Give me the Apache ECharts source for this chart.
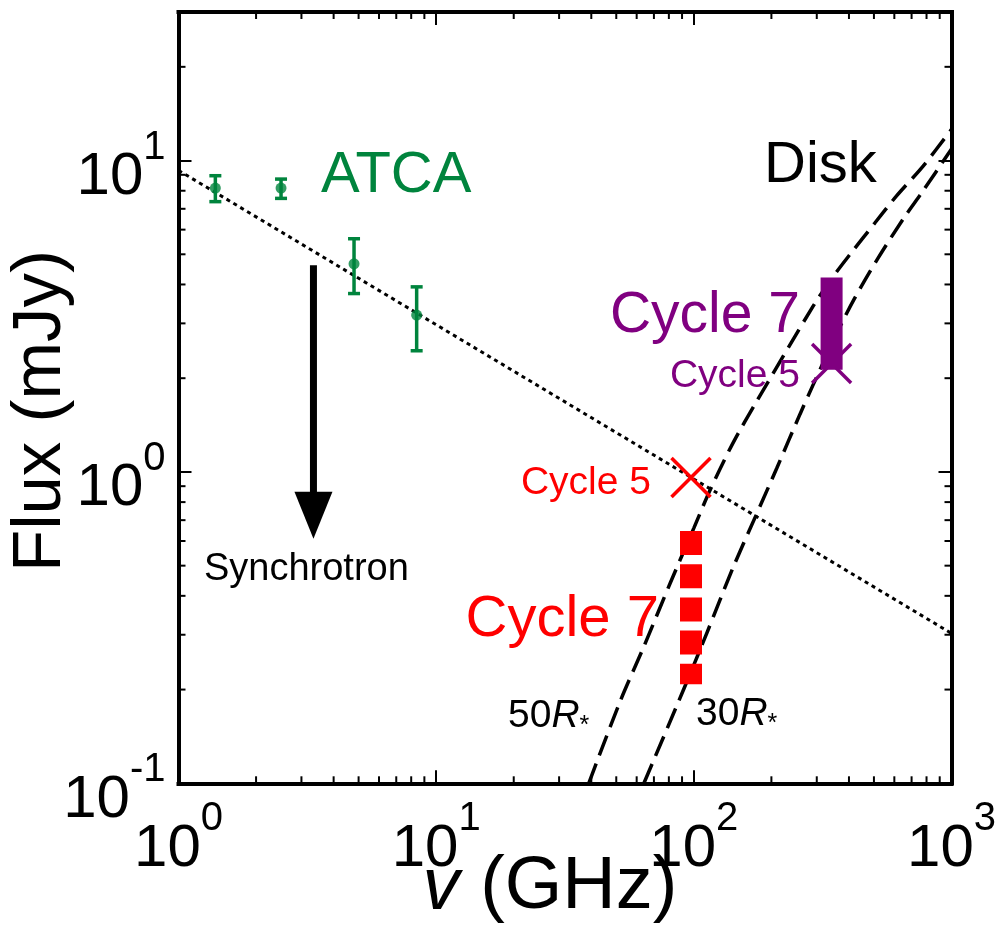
<!DOCTYPE html>
<html>
<head>
<meta charset="utf-8">
<title>Flux vs frequency</title>
<script src="https://cdn.jsdelivr.net/npm/echarts@6/dist/echarts.min.js"></script>
<style>
  html, body { margin: 0; padding: 0; background: #ffffff; }
  #chart { width: 1002px; height: 927px; }
</style>
</head>
<body>
<div id="chart"></div>
<script>
// ---- data -------------------------------------------------------------
// ATCA radio photometry (GHz, mJy)
const atcaFreq = [1.39, 2.5, 4.8, 8.4];
const atcaFlux = [8.16, 8.16, 4.66, 3.19];
const atcaLow  = [7.38, 7.56, 3.74, 2.45];
const atcaHigh = [8.94, 8.72, 5.61, 3.93];

// synchrotron power law, end points
const syncFreq = [1, 1000];
const syncFlux = [9.3, 0.303];

// disk model curves
const disk50Freq = [39.1, 52, 64, 81, 100, 116, 142, 175, 290, 348, 404, 504, 612, 776, 1000];
const disk50Flux = [0.1, 0.185, 0.275, 0.44, 0.66, 0.88, 1.24, 1.68, 3.4, 4.25, 5.0, 6.3, 7.7, 9.6, 12.6];
const disk30Freq = [64, 91, 112, 142, 175, 210, 258, 290, 358, 420, 518, 650, 776, 1000];
const disk30Flux = [0.1, 0.199, 0.302, 0.493, 0.731, 1.03, 1.53, 1.90, 2.78, 3.6, 4.85, 6.5, 8.0, 10.9];

// ALMA measurements: Cycle 5 points, Cycle 7 ranges (band 3, band 7)
const cycle5Freq = [97.5, 342.5];
const cycle5Flux = [0.96, 2.23];
const cycle7Freq = [97.5, 342.5];
const cycle7Top = [0.646, 4.21];
const cycle7Bottom = [0.208, 2.13];

// synchrotron arrow (GHz, from mJy, to mJy)
const arrowFreq = [3.34];
const arrowFrom = [4.61];
const arrowTo = [0.61];

// decade exponents that get a tick label
const xExponents = [0, 1, 2, 3];
const yExponents = [-1, 0, 1];

// ---- styling ----------------------------------------------------------
const FONT = "'Liberation Sans', Arial, Helvetica, sans-serif";
const GREEN = '#00843d';
const PURPLE = '#800080';
const RED = '#ff0000';
const X_RANGE = [1, 1000];
const Y_RANGE = [0.1, 30];

const zip = (a, b) => a.map((v, i) => [v, b[i]]);

// "10" with the decade exponent as a superscript
function powerLabel(exps) {
  return function (v) {
    const p = Math.log10(v);
    const r = Math.round(p);
    if (Math.abs(p - r) > 1e-6 || exps.indexOf(r) < 0) return '';
    return '{b|10}{e|' + r + '}';
  };
}
const richTick = {
  b: { fontFamily: FONT, fontSize: 60, lineHeight: 80, verticalAlign: 'bottom', color: '#000' },
  e: { fontFamily: FONT, fontSize: 40, lineHeight: 26, verticalAlign: 'top', color: '#000' }
};

const axisLine = { show: true, onZero: false, lineStyle: { color: '#000', width: 4, cap: 'square' } };
const majorTick = { show: true, inside: true, length: 13, lineStyle: { color: '#000', width: 2 } };

// minor decade ticks (2..9 within every decade) drawn on all four sides
function minorValues(lo, hi) {
  const out = [];
  for (let d = Math.floor(Math.log10(lo)); d < Math.ceil(Math.log10(hi)); d++) {
    for (let m = 2; m <= 9; m++) {
      const v = m * Math.pow(10, d);
      if (v > lo && v < hi) out.push(v);
    }
  }
  return out;
}
const MINOR_LEN = 7;
function renderXMinor(params, api) {
  const cs = params.coordSys;
  const x = api.coord([api.value(0), Y_RANGE[0]])[0];
  const top = cs.y, bottom = cs.y + cs.height;
  const st = { stroke: '#000', lineWidth: 2 };
  return { type: 'group', children: [
    { type: 'line', shape: { x1: x, y1: bottom, x2: x, y2: bottom - MINOR_LEN }, style: st },
    { type: 'line', shape: { x1: x, y1: top, x2: x, y2: top + MINOR_LEN }, style: st }
  ] };
}
function renderYMinor(params, api) {
  const cs = params.coordSys;
  const y = api.coord([X_RANGE[0], api.value(1)])[1];
  const left = cs.x, right = cs.x + cs.width;
  const st = { stroke: '#000', lineWidth: 2 };
  return { type: 'group', children: [
    { type: 'line', shape: { x1: left, y1: y, x2: left + MINOR_LEN, y2: y }, style: st },
    { type: 'line', shape: { x1: right, y1: y, x2: right - MINOR_LEN, y2: y }, style: st }
  ] };
}

// vertical error bar with caps
function renderErrorBar(params, api) {
  const lo = api.coord([api.value(0), api.value(1)]);
  const hi = api.coord([api.value(0), api.value(2)]);
  const cap = 6;
  const st = { stroke: GREEN, lineWidth: 3.5 };
  return { type: 'group', children: [
    { type: 'line', shape: { x1: lo[0], y1: lo[1], x2: hi[0], y2: hi[1] }, style: st },
    { type: 'line', shape: { x1: lo[0] - cap, y1: lo[1], x2: lo[0] + cap, y2: lo[1] }, style: st },
    { type: 'line', shape: { x1: hi[0] - cap, y1: hi[1], x2: hi[0] + cap, y2: hi[1] }, style: st }
  ] };
}

// open "x" marker
function crossRenderer(color) {
  return function (params, api) {
    const p = api.coord([api.value(0), api.value(1)]);
    const h = 19.5;
    const st = { stroke: color, lineWidth: 3.5 };
    return { type: 'group', children: [
      { type: 'line', shape: { x1: p[0] - h, y1: p[1] - h, x2: p[0] + h, y2: p[1] + h }, style: st },
      { type: 'line', shape: { x1: p[0] - h, y1: p[1] + h, x2: p[0] + h, y2: p[1] - h }, style: st }
    ] };
  };
}

// downward arrow with a solid triangular head
function renderArrow(params, api) {
  const start = api.coord([api.value(0), api.value(1)]);
  const tip = api.coord([api.value(0), api.value(2)]);
  const headLen = 47, headHalf = 19;
  return { type: 'group', children: [
    { type: 'line', shape: { x1: start[0], y1: start[1], x2: tip[0], y2: tip[1] - headLen + 2 },
      style: { stroke: '#000', lineWidth: 7 } },
    { type: 'polygon', shape: { points: [[tip[0] - headHalf, tip[1] - headLen], [tip[0] + headHalf, tip[1] - headLen], [tip[0], tip[1]]] },
      style: { fill: '#000' } }
  ] };
}

function textEl(text, x, y, color, size, align) {
  return { type: 'text', z: 100, style: { text: text, x: x, y: y, fill: color, font: size + 'px ' + FONT,
    align: align, textAlign: align, verticalAlign: 'middle', textVerticalAlign: 'middle' } };
}
// "50R*" style label: italic R with a lowered asterisk
function radiusEl(num, x, y) {
  return { type: 'text', z: 100, style: { text: '{n|' + num + '}{r|R}{s|*}', x: x, y: y, fill: '#000',
    align: 'left', textAlign: 'left', verticalAlign: 'middle', textVerticalAlign: 'middle',
    rich: {
      n: { fontFamily: FONT, fontSize: 39, lineHeight: 42, verticalAlign: 'top' },
      r: { fontFamily: FONT, fontSize: 39, lineHeight: 42, verticalAlign: 'top', fontStyle: 'italic' },
      s: { fontFamily: FONT, fontSize: 25, lineHeight: 10, verticalAlign: 'bottom' }
    } } };
}

const chart = echarts.init(document.getElementById('chart'), null, { renderer: 'canvas' });

const option = {
  animation: false,
  backgroundColor: '#ffffff',
  grid: { left: 178.5, right: 50.5, top: 12, bottom: 143.7, containLabel: false, outerBoundsMode: 'none' },
  xAxis: [
    { type: 'log', logBase: 10, min: X_RANGE[0], max: X_RANGE[1], position: 'bottom',
      axisLine: axisLine, axisTick: majorTick, splitLine: { show: false }, minorTick: { show: false },
      axisLabel: { show: true, margin: 16, formatter: powerLabel(xExponents), rich: richTick,
                   showMinLabel: true, showMaxLabel: true, hideOverlap: false } },
    { type: 'log', logBase: 10, min: X_RANGE[0], max: X_RANGE[1], position: 'top',
      axisLine: axisLine, axisTick: majorTick, splitLine: { show: false }, axisLabel: { show: false } }
  ],
  yAxis: [
    { type: 'log', logBase: 10, min: Y_RANGE[0], max: Y_RANGE[1], position: 'left',
      axisLine: axisLine, axisTick: majorTick, splitLine: { show: false }, minorTick: { show: false },
      axisLabel: { show: true, margin: 13, padding: [14, 0, 0, 0], formatter: powerLabel(yExponents), rich: richTick,
                   showMinLabel: true, showMaxLabel: false, hideOverlap: false } },
    { type: 'log', logBase: 10, min: Y_RANGE[0], max: Y_RANGE[1], position: 'right',
      axisLine: axisLine, axisTick: majorTick, splitLine: { show: false }, axisLabel: { show: false } }
  ],
  series: [
    { type: 'custom', name: 'minor x', renderItem: renderXMinor, silent: true,
      data: minorValues(X_RANGE[0], X_RANGE[1]).map(v => [v, 1]) },
    { type: 'custom', name: 'minor y', renderItem: renderYMinor, silent: true,
      data: minorValues(Y_RANGE[0], Y_RANGE[1]).map(v => [1, v]) },
    { type: 'line', name: 'Synchrotron', data: zip(syncFreq, syncFlux), symbol: 'none',
      lineStyle: { color: '#000', width: 3, type: [4, 4] }, z: 3 },
    { type: 'line', name: '50R*', data: zip(disk50Freq, disk50Flux), symbol: 'none', smooth: 0.3,
      lineStyle: { color: '#000', width: 3.5, type: [21, 9] }, z: 3 },
    { type: 'line', name: '30R*', data: zip(disk30Freq, disk30Flux), symbol: 'none', smooth: 0.3,
      lineStyle: { color: '#000', width: 3.5, type: [21, 9] }, z: 3 },
    { type: 'custom', name: 'ATCA errors', renderItem: renderErrorBar, z: 4,
      data: atcaFreq.map((f, i) => [f, atcaLow[i], atcaHigh[i]]) },
    { type: 'scatter', name: 'ATCA', data: zip(atcaFreq, atcaFlux), symbol: 'circle', symbolSize: 11,
      itemStyle: { color: GREEN }, z: 5 },
    { type: 'custom', name: 'Cycle 5 (B3)', renderItem: crossRenderer(RED), z: 5,
      data: [[cycle5Freq[0], cycle5Flux[0]]] },
    { type: 'custom', name: 'Cycle 5 (B7)', renderItem: crossRenderer(PURPLE), z: 5,
      data: [[cycle5Freq[1], cycle5Flux[1]]] },
    { type: 'line', name: 'Cycle 7 (B3)', symbol: 'none', z: 6,
      data: [[cycle7Freq[0], cycle7Top[0]], [cycle7Freq[0], cycle7Bottom[0]]],
      lineStyle: { color: RED, width: 22, type: [24, 9.2], cap: 'butt' } },
    { type: 'line', name: 'Cycle 7 (B7)', symbol: 'none', z: 6,
      data: [[cycle7Freq[1], cycle7Top[1]], [cycle7Freq[1], cycle7Bottom[1]]],
      lineStyle: { color: PURPLE, width: 22, type: 'solid', cap: 'butt' } },
    { type: 'custom', name: 'arrow', renderItem: renderArrow, z: 6,
      data: arrowFreq.map((f, i) => [f, arrowFrom[i], arrowTo[i]]) }
  ],
  graphic: [
    textEl('ATCA', 321, 176, GREEN, 58, 'left'),
    textEl('Disk', 764, 166, '#000', 58, 'left'),
    textEl('Cycle 7', 800, 316, PURPLE, 57, 'right'),
    textEl('Cycle 5', 800, 376.5, PURPLE, 39, 'right'),
    textEl('Cycle 5', 651, 483, RED, 39, 'right'),
    textEl('Cycle 7', 659, 619.5, RED, 58, 'right'),
    textEl('Synchrotron', 306.4, 570, '#000', 38, 'center'),
    radiusEl('50', 508, 717.5),
    radiusEl('30', 696, 715.8),
    { type: 'text', z: 100, style: { text: '{i|v} (GHz)', x: 550, y: 888, fill: '#000',
      fontFamily: FONT, fontSize: 74,
      align: 'center', textAlign: 'center', verticalAlign: 'middle', textVerticalAlign: 'middle',
      rich: { i: { fontFamily: FONT, fontSize: 74, fontStyle: 'italic' } } } },
    { type: 'text', z: 100, x: 41, y: 411, rotation: Math.PI / 2,
      style: { text: 'Flux (mJy)', x: 0, y: 0, fill: '#000', font: '69px ' + FONT,
      align: 'center', textAlign: 'center', verticalAlign: 'middle', textVerticalAlign: 'middle' } }
  ]
};

chart.setOption(option);
</script>
</body>
</html>
